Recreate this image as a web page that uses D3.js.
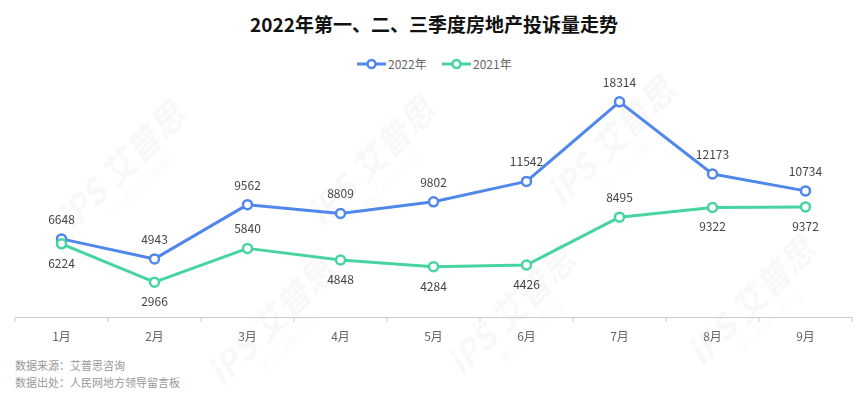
<!doctype html>
<html lang="zh">
<head>
  <meta charset="utf-8">
  <title>2022年第一、二、三季度房地产投诉量走势</title>
  <style>
    body { margin: 0; background: #fff; }
    svg { font-family: "Noto Sans CJK SC", "Noto Sans", sans-serif; }
  </style>
</head>
<body>
  <script src="https://d3js.org/d3.v7.min.js" charset="utf-8"></script>
  <script>

// data
var months = ["1月", "2月", "3月", "4月", "5月", "6月", "7月", "8月", "9月"];
var values2022 = [6648, 4943, 9562, 8809, 9802, 11542, 18314, 12173, 10734];
var values2021 = [6224, 2966, 5840, 4848, 4284, 4426, 8495, 9322, 9372];
var seriesNames = ["2022年", "2021年"];
// which 2021 labels sit above their point
var above2021 = [false, false, true, false, false, false, true, false, false];

var W = 867, H = 397;
var colors = ["#5087ec", "#47d4a0"];

var svg = d3.select("body").append("svg")
    .attr("width", W)
    .attr("height", H);

// faint watermarks, kept well inside the picture
var wm = svg.append("g").attr("fill", "#000").attr("opacity", 0.03);
[[130, 175], [380, 170], [620, 150], [280, 330], [520, 320], [760, 310]].forEach(function(p) {
  var g = wm.append("g").attr("transform", "translate(" + p[0] + "," + p[1] + ") rotate(-45)");
  g.append("text").attr("font-size", 34).attr("font-weight", "bold")
    .attr("font-style", "italic").attr("text-anchor", "middle").text("iPS 艾普思");
  g.append("text").attr("y", 20).attr("font-size", 12).attr("text-anchor", "middle")
    .text("IPS Consulting");
});

// title
svg.append("text")
  .attr("x", 434).attr("y", 32)
  .attr("text-anchor", "middle")
  .attr("font-size", 19).attr("font-weight", "bold").attr("fill", "#111")
  .text("2022年第一、二、三季度房地产投诉量走势");

var x = d3.scaleBand().domain(months).range([15, 852]);
var y = d3.scaleLinear().domain([0, 20000]).range([317, 82]);
var cx = function(d, i) { return x(months[i]) + x.bandwidth() / 2; };

// axis
var axis = svg.append("g")
  .attr("transform", "translate(0,317)")
  .call(d3.axisBottom(x).tickSize(0).tickPadding(15));
axis.select(".domain").attr("stroke", "#ccc");
axis.selectAll("text").attr("font-size", 12).attr("fill", "#666")
  .attr("font-family", "\"Noto Sans CJK SC\", sans-serif");
// boundary ticks
axis.selectAll(".bound").data(d3.range(months.length + 1)).enter().append("line")
  .attr("x1", function(i) { return 15 + i * x.bandwidth(); })
  .attr("x2", function(i) { return 15 + i * x.bandwidth(); })
  .attr("y1", 0).attr("y2", 5).attr("stroke", "#ccc");

var line = d3.line().x(cx).y(function(d) { return y(d); });

var series = [values2022, values2021];
series.forEach(function(vals, s) {
  var g = svg.append("g");
  g.append("path").datum(vals)
    .attr("d", line)
    .attr("fill", "none")
    .attr("stroke", colors[s])
    .attr("stroke-width", 3)
    .attr("stroke-linejoin", "round");
  g.selectAll("circle").data(vals).enter().append("circle")
    .attr("cx", cx).attr("cy", function(d) { return y(d); })
    .attr("r", 4.5)
    .attr("fill", "#fff")
    .attr("stroke", colors[s]).attr("stroke-width", 2.5);
  g.selectAll("text").data(vals).enter().append("text")
    .attr("x", cx)
    .attr("y", function(d, i) {
      var up = s === 0 || above2021[i];
      return up ? y(d) - 15 : y(d) + 24;
    })
    .attr("text-anchor", "middle")
    .attr("font-size", 12).attr("fill", "#444")
    .text(function(d) { return d; });
});

// legend
var legX = [357, 442];
seriesNames.forEach(function(name, s) {
  var lg = svg.append("g").attr("transform", "translate(" + legX[s] + ",64)");
  lg.append("line").attr("x1", 0).attr("x2", 29).attr("y1", 0).attr("y2", 0)
    .attr("stroke", colors[s]).attr("stroke-width", 3);
  lg.append("circle").attr("cx", 14.5).attr("cy", 0).attr("r", 4)
    .attr("fill", "#fff").attr("stroke", colors[s]).attr("stroke-width", 2.5);
  lg.append("text").attr("x", 31).attr("y", 4.5)
    .attr("font-size", 12).attr("fill", "#666").text(name);
});

// source notes
svg.append("text").attr("x", 15).attr("y", 370)
  .attr("font-size", 11).attr("fill", "#999").text("数据来源：艾普思咨询");
svg.append("text").attr("x", 15).attr("y", 387)
  .attr("font-size", 11).attr("fill", "#999").text("数据出处：人民网地方领导留言板");

  </script>
</body>
</html>
